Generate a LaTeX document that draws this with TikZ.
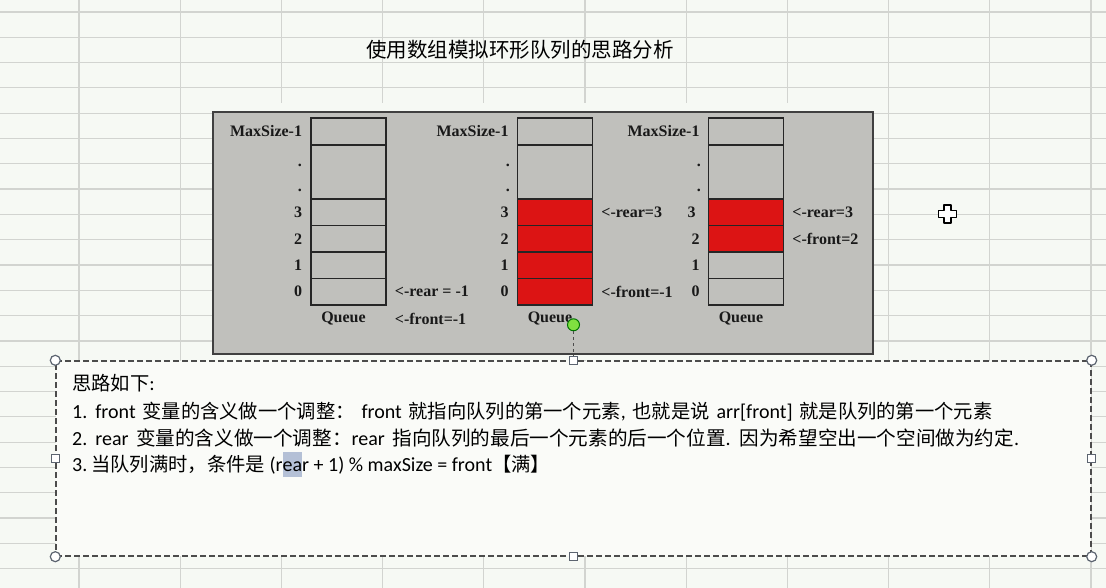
\documentclass[tikz,border=0pt]{standalone}
\usepackage{fontspec}
\setmainfont{Carlito}
\newfontfamily\picfont{Liberation Serif}
\newfontfamily\cjk{Noto Sans CJK SC}
\newcommand\zh[1]{{\cjk\fontsize{19.3}{19.3}\selectfont #1}}
\newcommand\zhw[1]{{\cjk\fontsize{19.6}{19.6}\selectfont #1}}
\usetikzlibrary{positioning, calc}
\definecolor{sheetbg}{HTML}{F6F9F4}
\definecolor{gridline}{HTML}{D2D4D0}
\definecolor{picgray}{HTML}{C0C0BC}
\definecolor{cellred}{HTML}{DC1414}
\definecolor{boxbg}{HTML}{FAFBF8}
\definecolor{handlegray}{HTML}{5C6470}
\definecolor{rotgreen}{HTML}{80E040}
\definecolor{selblue}{HTML}{B4C0D6}
\tikzset{
	cellnode/.style={
			draw=black!85,
			line width=1.5pt,
			fill=picgray,
			minimum width=75pt,
			minimum height=26.5pt,
			inner sep=0pt
		},
	topcell/.style={
			cellnode,
			minimum height=27pt
		},
	dotscell/.style={
			cellnode,
			minimum height=54pt
		},
	redcell/.style={
			cellnode,
			fill=cellred
		},
	numlabel/.style={
			font=\picfont\bfseries\fontsize{16}{16}\selectfont,
			inner sep=0pt,
			text=black!90
		},
	ptrlabel/.style={
			numlabel,
			anchor=west
		},
	bodytext/.style={
			font={\fontsize{20}{20}\selectfont},
			inner sep=0pt,
			anchor=base west
		},
	cornerhandle/.style={
			circle,
			draw=handlegray,
			line width=1.2pt,
			fill=white,
			minimum size=10pt,
			inner sep=0pt
		},
	sidehandle/.style={
			rectangle,
			draw=handlegray,
			line width=1.2pt,
			fill=white,
			minimum size=8pt,
			inner sep=0pt
		}
}

\begin{document}
\begin{tikzpicture}[x=1pt, y=-1pt]
\useasboundingbox (0,0) rectangle (1106,588);
\fill[sheetbg] (0,0) rectangle (1106,588);

% sheet grid
\foreach \gy in {0,...,22}
  \draw[gridline, line width=1.2pt] (0,{12+25.3*\gy}) -- (1106,{12+25.3*\gy});
\foreach \gx in {0,...,10}
  \draw[gridline, line width=1.2pt] ({79+101.2*\gx},0) -- ({79+101.2*\gx},588);

\node[font=\cjk\fontsize{20.5}{20.5}\selectfont, inner sep=0pt] (title) at (520,50) {使用数组模拟环形队列的思路分析};

% picture
\fill[sheetbg] (213,103) rectangle (873,360);
\draw[draw=black!75, line width=2pt, fill=picgray] (213,112) rectangle (873,354);

% stack a: empty
\node[topcell] (aTop) at (348.5,131.5) {};
\node[dotscell] (aDots) at (348.5,172) {};
\node[cellnode] (a3) at (348.5,212.25) {};
\node[cellnode] (a2) at (348.5,238.75) {};
\node[cellnode] (a1) at (348.5,265.25) {};
\node[cellnode] (a0) at (348.5,291.75) {};

% stack b: four elements
\node[topcell] (bTop) at (555,131.5) {};
\node[dotscell] (bDots) at (555,172) {};
\node[redcell] (b3) at (555,212.25) {};
\node[redcell] (b2) at (555,238.75) {};
\node[redcell] (b1) at (555,265.25) {};
\node[redcell] (b0) at (555,291.75) {};

% stack c: two elements
\node[topcell] (cTop) at (746,131.5) {};
\node[dotscell] (cDots) at (746,172) {};
\node[redcell] (c3) at (746,212.25) {};
\node[redcell] (c2) at (746,238.75) {};
\node[cellnode] (c1) at (746,265.25) {};
\node[cellnode] (c0) at (746,291.75) {};

% index labels
\node[numlabel, left=8pt of aTop] {MaxSize-1};
\node[numlabel, anchor=east] at (302,165) {.};
\node[numlabel, anchor=east] at (302,190) {.};
\node[numlabel, left=8pt of a3] {3};
\node[numlabel, left=8pt of a2] {2};
\node[numlabel, left=8pt of a1] {1};
\node[numlabel, left=8pt of a0] {0};

\node[numlabel, left=8pt of bTop] {MaxSize-1};
\node[numlabel, anchor=east] at (510,165) {.};
\node[numlabel, anchor=east] at (510,190) {.};
\node[numlabel, left=8pt of b3] {3};
\node[numlabel, left=8pt of b2] {2};
\node[numlabel, left=8pt of b1] {1};
\node[numlabel, left=8pt of b0] {0};

\node[numlabel, left=8pt of cTop] {MaxSize-1};
\node[numlabel, anchor=east] at (701,165) {.};
\node[numlabel, anchor=east] at (701,190) {.};
\node[numlabel, left=12pt of c3] {3};
\node[numlabel, left=8pt of c2] {2};
\node[numlabel, left=8pt of c1] {1};
\node[numlabel, left=8pt of c0] {0};

\node[numlabel, below=6pt of a0, xshift=-5pt] (aQ) {Queue};
\node[numlabel, below=6pt of b0, xshift=-5pt] (bQ) {Queue};
\node[numlabel, below=6pt of c0, xshift=-5pt] (cQ) {Queue};

% pointers
\node[ptrlabel, right=8pt of a0] (aR) {<-rear = -1};
\node[ptrlabel, xshift=8pt] (aF) at (a0.east |- aQ) {<-front=-1};
\node[ptrlabel, right=8pt of b3] (bR) {<-rear=3};
\node[ptrlabel, right=8pt of b0] (bF) {<-front=-1};
\node[ptrlabel, right=8pt of c3] (cR) {<-rear=3};
\node[ptrlabel, right=8pt of c2] (cF) {<-front=2};

% text box
\node[draw=black!70, dashed, dash pattern=on 6pt off 3pt, line width=1.4pt, fill=boxbg,
      minimum width=1035pt, minimum height=195pt, inner sep=0pt] (tbox) at (573.5,458.5) {};
\node[sidehandle] (hN) at (tbox.north) {};
\node[sidehandle] (hS) at (tbox.south) {};
\node[sidehandle] (hW) at (tbox.west) {};
\node[sidehandle] (hE) at (tbox.east) {};
\node[cornerhandle] (hNW) at (tbox.north west) {};
\node[cornerhandle] (hNE) at (tbox.north east) {};
\node[cornerhandle] (hSW) at (tbox.south west) {};
\node[cornerhandle] (hSE) at (tbox.south east) {};
\node[circle, draw=green!45!black, line width=1pt, fill=rotgreen, minimum size=12pt, inner sep=0pt,
      above=29pt of tbox.north] (rot) {};
\draw[black!70, dashed, line width=1.2pt] (rot) -- (hN);

\node[bodytext] (hd) at (72,390) {\zh{思路如下}:};
\node[bodytext] (l1) at (72,418) {\spaceskip=6.75pt\relax 1.\hspace{8pt}front \zh{变量的含义做一个调整：} front \zh{就指向队列的第一个元素}, \zh{也就是说} arr[front] \zh{就是队列的第一个元素}};
\node[bodytext] (l2) at (72,445) {\spaceskip=7.5pt\relax 2.\hspace{8pt}rear \zhw{变量的含义做一个调整：}rear \zhw{指向队列的最后一个元素的后一个位置}.\hspace{9pt}\zhw{因为希望空出一个空间做为约定}.};
\node[bodytext] (l3) at (72,471) {3.\hspace{4pt}\zh{当队列满时，条件是} (r{\setlength\fboxsep{0pt}\colorbox{selblue}{\rule[-6pt]{0pt}{25pt}ea}}r + 1) \% maxSize = front\zh{【满】}};

% mouse cursor
\draw[fill=white, line width=1.6pt, line join=round]
  (944,205) -- (951,205) -- (951,210.5) -- (956.5,210.5) -- (956.5,217.5) -- (951,217.5)
  -- (951,223) -- (944,223) -- (944,217.5) -- (938.5,217.5) -- (938.5,210.5) -- (944,210.5) -- cycle;
\end{tikzpicture}
\end{document}
